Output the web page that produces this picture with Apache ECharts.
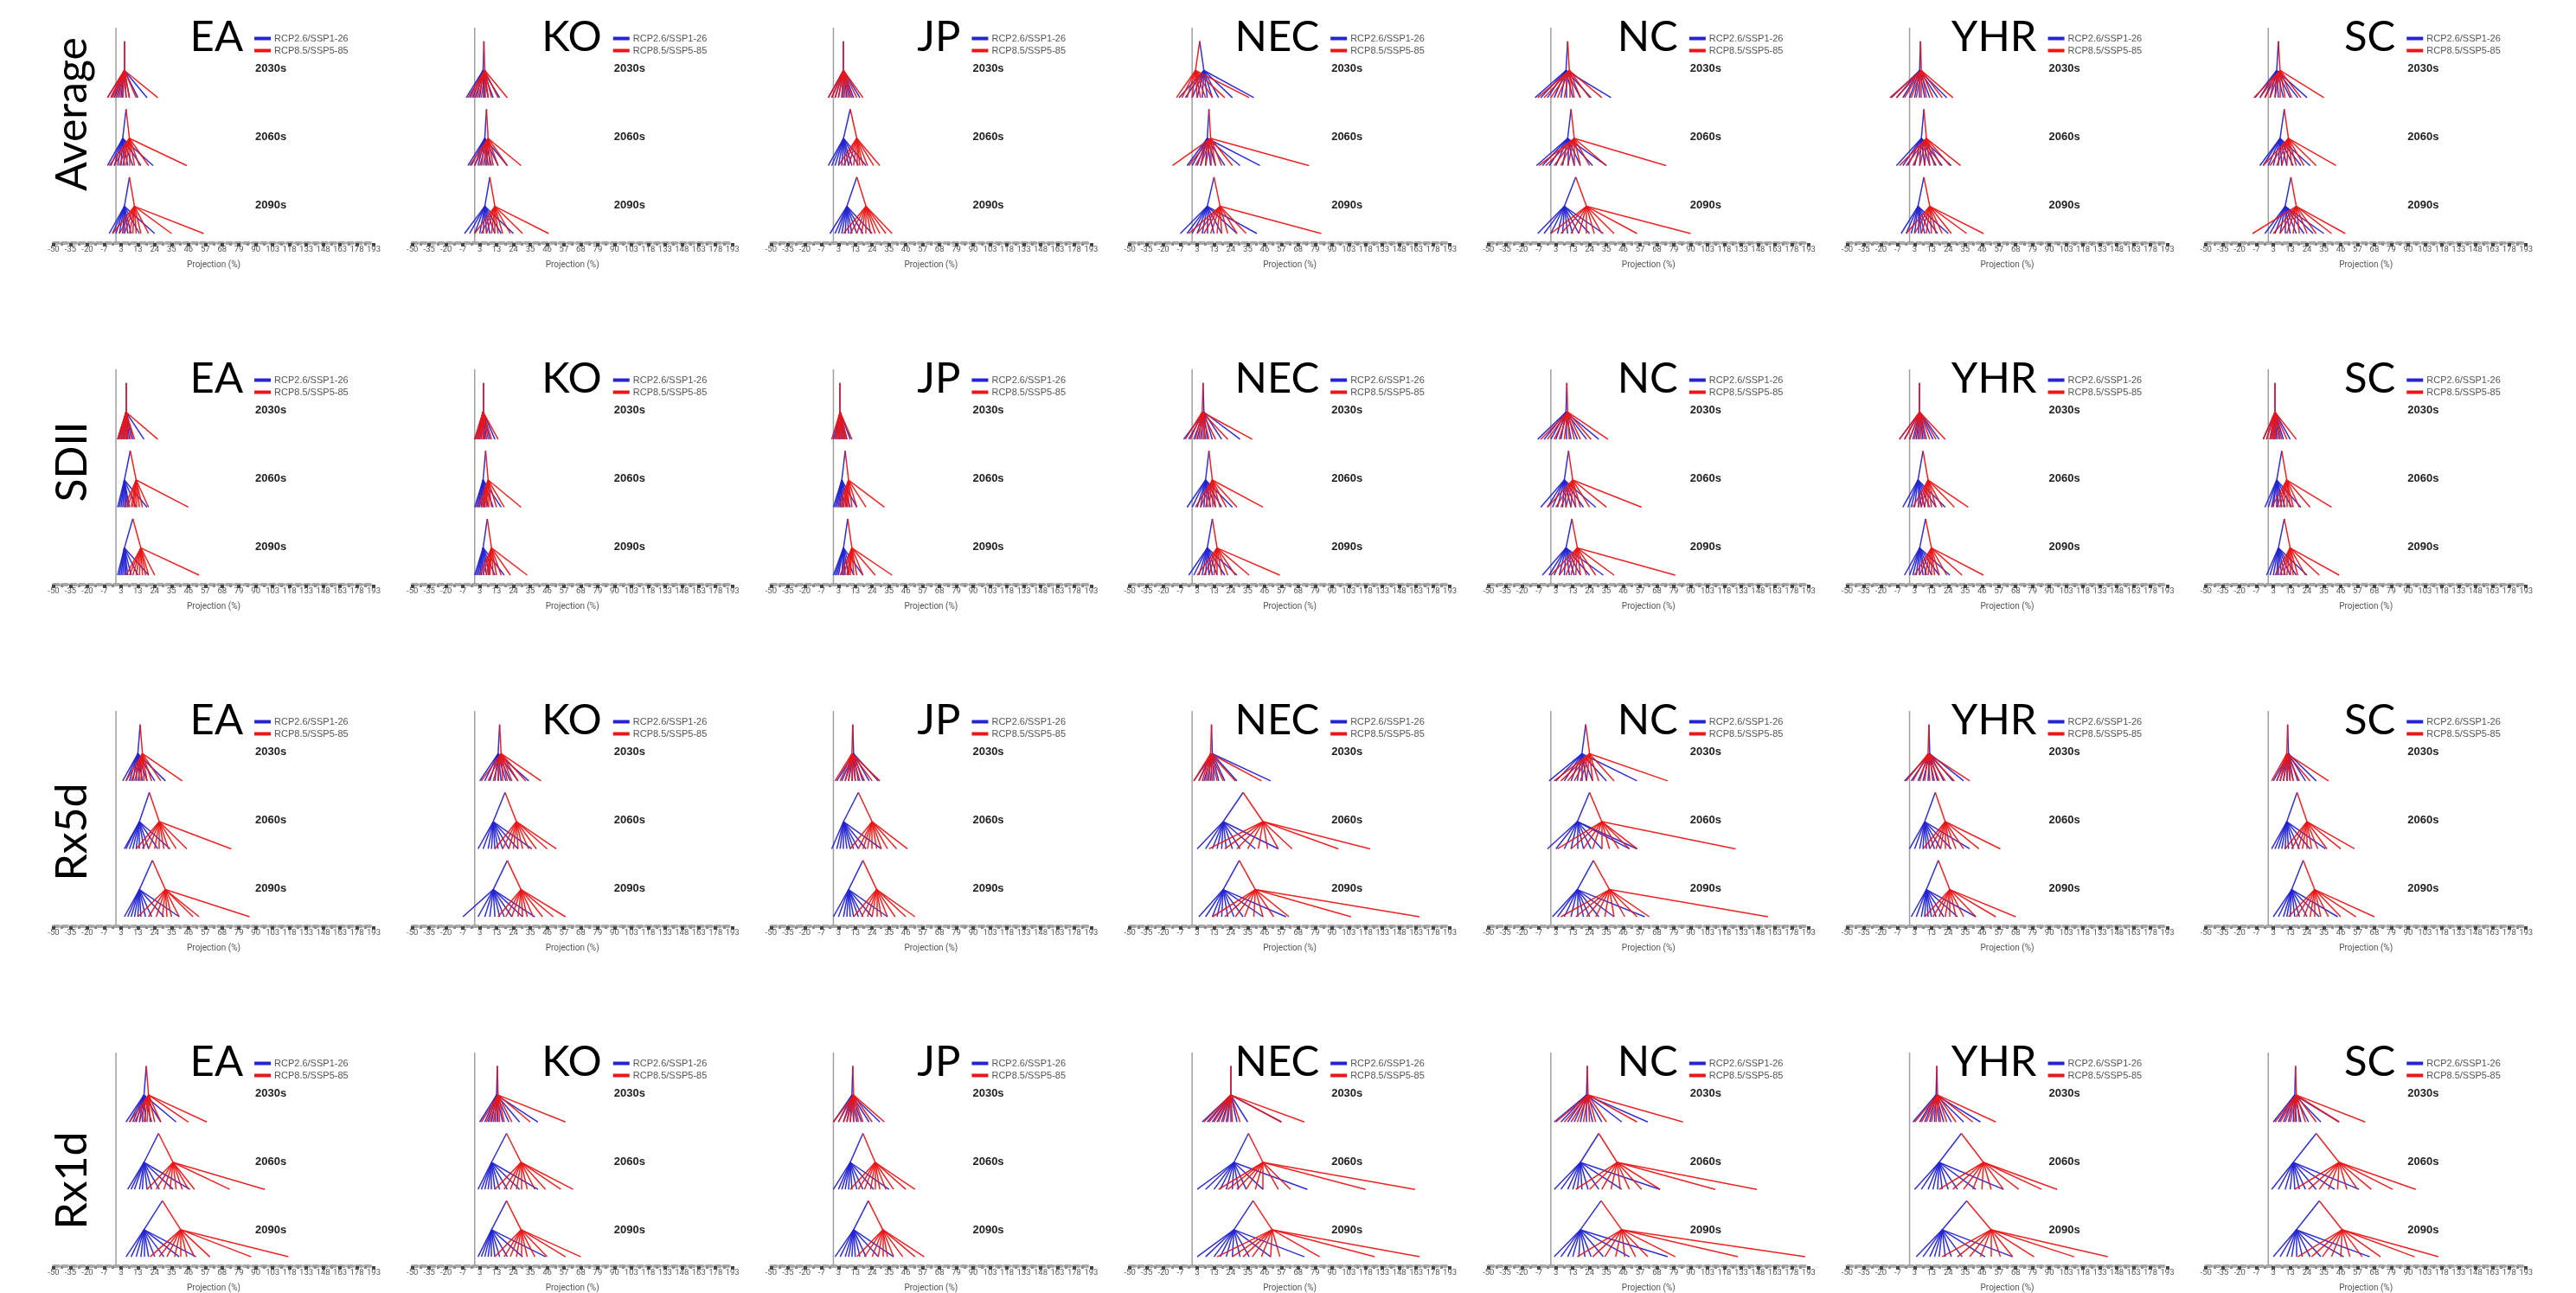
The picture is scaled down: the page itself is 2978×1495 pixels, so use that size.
<!DOCTYPE html>
<html><head><meta charset="utf-8">
<script src="https://cdn.jsdelivr.net/npm/echarts@6/dist/echarts.min.js"></script>
<style>html,body{margin:0;padding:0;background:#fff}#c{width:2978px;height:1495px}</style>
</head><body><div id="c"></div>
<script>
// ---------- labels ----------
const regions = ['EA','KO','JP','NEC','NC','YHR','SC'];
const indices = ['Average','SDII','Rx5d','Rx1d'];
const decades = ['2030s','2060s','2090s'];
const xTickLabels = [-50,-35,-20,-7,3,13,24,35,46,57,68,79,90,103,118,133,148,163,178,193];
const scenarioNames = ['RCP2.6/SSP1-26','RCP8.5/SSP5-85'];
// each decade: [blue cluster mean, red cluster mean, blue model values, red model values] (Projection %)
// ---------- Average ----------
const avgEA = [
 [5,5,[-5,-3,-1,1,3,4,6,8,13,19],[-5,-3,-2,0,2,4,6,8,12,26]],
 [4,8,[-5,-3,-1,1,3,5,7,10,15,23],[-4,-1,2,4,6,8,11,14,20,45]],
 [5,11,[-4,-2,0,2,4,5,7,9,14,24],[-2,2,5,8,10,12,15,20,35,56]]];
const avgKO = [
 [5,6,[-5,-3,-1,1,3,5,6,8,11,15],[-4,-2,0,2,4,6,8,10,14,20]],
 [6,8,[-4,-2,0,2,4,6,8,10,14,20],[-3,0,3,5,7,9,11,14,20,29]],
 [6,12,[-6,-3,0,3,5,7,9,12,16,24],[0,4,7,10,12,14,17,22,30,47]]];
const avgJP = [
 [6,6,[-3,-1,1,3,5,6,8,10,12,16],[-3,-1,1,3,5,7,9,11,14,18]],
 [6,14,[-3,-1,1,3,5,7,9,11,15,20],[3,6,9,12,14,16,18,21,25,29]],
 [8,20,[-2,1,3,5,7,9,11,14,18,24],[6,10,14,17,20,23,26,29,33,37]]];
const avgNEC = [
 [7,2,[-8,-4,0,3,6,9,12,16,25,39],[-10,-6,-3,0,3,5,8,12,20,36]],
 [9,11,[-3,0,3,5,8,11,14,20,30,43],[-13,-2,2,5,8,11,14,18,25,75]],
 [9,17,[-7,-3,0,3,6,9,13,18,28,41],[-2,3,7,11,15,18,22,28,34,83]]];
const avgNC = [
 [9,11,[-10,-6,-2,2,6,9,13,18,25,38],[-8,-4,0,4,8,11,14,18,24,32]],
 [10,14,[-9,-5,-1,3,7,10,14,18,26,35],[-7,-3,2,6,10,14,18,24,35,74]],
 [8,22,[-8,-4,0,4,7,10,13,17,24,33],[0,6,12,17,22,27,32,40,55,90]]];
const avgYHR = [
 [6,7,[-12,-8,-4,0,3,6,9,12,17,23],[-13,-8,-3,1,4,7,10,14,20,27]],
 [7,10,[-8,-4,-1,3,6,9,12,16,20,26],[-6,-2,2,6,9,12,15,19,25,32]],
 [5,12,[-5,-2,1,3,5,7,9,12,17,24],[-2,3,7,10,13,16,20,26,36,47]]];
const avgSC = [
 [5,7,[-8,-5,-2,1,4,6,9,13,18,24],[-9,-5,-2,1,4,7,10,14,20,35]],
 [7,12,[-5,-3,0,3,6,8,11,15,20,26],[-3,1,5,8,11,14,17,22,30,43]],
 [10,17,[-2,1,4,7,10,13,17,22,28,35],[-10,3,7,11,15,19,24,30,40,49]]];
// ---------- SDII ----------
const sdiiEA = [
 [6,6,[1,2,3,4,5,6,7,8,10,17],[1,2,3,4,5,6,7,9,11,26]],
 [5,12,[1,2,3,4,5,6,7,8,12,19],[5,7,9,10,11,12,14,16,20,46]],
 [5,15,[1,2,3,4,5,6,7,9,13,20],[6,8,10,12,14,16,18,20,24,53]]];
const sdiiKO = [
 [5,5,[0,1,2,3,4,5,6,7,9,12],[0,1,2,3,4,5,6,8,10,14]],
 [5,8,[0,1,2,3,4,5,6,8,11,16],[2,4,5,6,7,8,10,13,18,29]],
 [5,10,[0,1,2,3,4,5,7,9,12,18],[3,5,7,8,9,11,13,16,22,33]]];
const sdiiJP = [
 [4,4,[0,1,2,3,4,5,6,7,8,10],[-1,1,2,3,4,5,6,7,8,11]],
 [5,9,[0,1,2,3,4,5,6,8,10,14],[3,5,6,7,8,9,11,14,20,32]],
 [6,11,[0,1,2,3,5,6,7,9,12,18],[4,6,8,9,10,12,14,18,26,37]]];
const sdiiNEC = [
 [7,6,[-5,-2,1,3,5,7,9,12,18,30],[-4,-1,2,4,6,8,10,14,22,38]],
 [8,12,[-3,0,3,5,7,9,11,14,18,25],[2,5,8,10,12,14,17,21,28,45]],
 [9,15,[-2,1,4,6,8,10,12,15,20,28],[3,7,10,13,15,18,22,27,36,56]]];
const sdiiNC = [
 [9,10,[-8,-4,0,3,6,9,12,16,22,30],[-6,-2,2,5,8,11,14,18,25,36]],
 [8,13,[-6,-2,1,4,7,9,12,15,20,28],[-2,3,6,9,12,15,18,24,35,58]],
 [9,16,[-5,-1,2,5,8,11,14,18,24,33],[0,5,9,12,15,18,22,28,40,80]]];
const sdiiYHR = [
 [6,6,[-6,-3,0,2,4,6,8,10,14,18],[-6,-3,0,3,5,7,9,12,16,22]],
 [5,11,[-4,-1,1,3,5,7,9,12,16,22],[2,5,7,9,11,13,16,20,28,37]],
 [6,13,[-3,0,2,4,6,8,10,13,18,25],[3,6,9,11,13,15,18,23,33,47]]];
const sdiiSC = [
 [4,4,[-3,-1,1,2,3,4,5,7,9,13],[-3,-1,1,2,3,4,6,8,11,17]],
 [5,11,[-2,0,2,3,5,6,8,10,14,20],[2,5,7,9,11,13,15,19,26,40]],
 [6,13,[-1,1,3,5,6,8,10,13,17,24],[4,7,9,11,13,15,18,23,32,45]]];
// ---------- Rx5d ----------
const rx5EA = [
 [13,16,[4,6,8,10,12,14,16,19,24,31],[6,9,11,13,15,17,19,22,28,42]],
 [14,27,[5,6,8,10,12,14,17,20,26,34],[12,16,20,24,27,30,33,38,45,74]],
 [14,31,[5,7,9,11,13,15,18,22,30,40],[13,20,25,29,32,35,40,49,53,86]]];
const rx5KO = [
 [14,16,[3,6,9,12,14,16,19,22,27,34],[4,8,11,14,17,20,23,27,32,42]],
 [11,26,[2,5,8,10,12,14,17,21,27,36],[12,17,21,24,27,30,34,39,46,52]],
 [11,29,[-7,2,6,9,12,15,18,23,30,38],[14,19,23,27,30,33,37,43,50,58]]];
const rx5JP = [
 [12,11,[2,5,7,9,11,13,15,18,22,28],[1,4,7,9,11,13,16,19,24,29]],
 [6,24,[-1,2,4,6,8,10,12,15,20,30],[10,15,18,21,24,27,30,34,40,47]],
 [9,27,[0,3,6,8,10,12,15,18,24,34],[12,17,21,24,27,30,34,39,46,52]]];
const rx5NEC = [
 [12,11,[1,4,7,9,11,13,16,20,28,50],[1,4,6,8,10,12,15,19,27,44]],
 [19,45,[3,8,12,15,18,21,25,30,40,55],[10,20,28,35,42,48,55,64,95,122]],
 [19,40,[4,8,12,15,18,22,26,32,45,60],[12,20,27,33,39,45,52,62,105,166]]];
const rx5NC = [
 [19,24,[-1,3,8,12,16,19,22,26,35,55],[2,6,10,14,18,22,26,30,40,75]],
 [16,32,[-2,3,8,12,16,20,25,32,50,55],[4,12,20,26,32,37,43,50,55,128]],
 [16,37,[1,4,8,12,16,20,24,30,40,60],[6,15,22,28,34,40,47,55,63,157]]];
const rx5YHR = [
 [12,11,[-3,1,5,8,11,14,17,21,27,34],[-2,2,6,9,12,15,18,22,28,38]],
 [9,22,[0,3,6,8,10,12,15,19,26,38],[8,12,16,19,22,25,29,34,44,58]],
 [10,25,[1,4,7,9,11,13,16,21,30,42],[9,14,18,22,25,29,34,42,55,68]]];
const rx5SC = [
 [12,11,[3,5,7,9,11,13,15,18,23,30],[2,5,7,9,11,13,15,19,26,38]],
 [11,24,[2,4,6,8,10,12,15,19,26,36],[10,14,18,21,24,27,31,37,46,55]],
 [14,29,[3,6,9,11,13,16,19,24,32,44],[12,17,22,26,29,33,38,46,56,68]]];
// ---------- Rx1d ----------
const rx1EA = [
 [17,20,[6,8,10,12,14,16,18,22,28,38],[8,11,14,17,19,21,24,28,46,58]],
 [17,36,[7,9,11,14,16,19,22,27,36,47],[19,25,30,34,38,42,46,50,73,97]],
 [17,41,[6,9,12,15,17,20,24,30,40,51],[21,27,32,37,41,45,50,60,87,117]]];
const rx1KO = [
 [13,14,[3,6,8,10,12,14,17,21,28,40],[4,7,9,11,13,15,18,23,35,58]],
 [10,29,[2,4,6,8,10,12,15,20,28,40],[12,18,22,26,29,33,38,45,55,63]],
 [10,29,[2,4,6,8,10,12,15,20,30,45],[12,18,22,26,29,33,38,46,58,68]]];
const rx1JP = [
 [11,12,[0,3,6,8,10,12,14,17,22,29],[0,3,6,8,10,12,15,18,24,32]],
 [10,26,[0,3,5,7,9,11,14,18,25,35],[10,15,19,23,26,29,33,38,46,52]],
 [12,31,[1,4,7,9,11,13,16,20,28,38],[14,19,24,28,31,34,38,44,52,58]]];
const rx1NEC = [
 [24,24,[6,9,12,15,18,21,24,28,35,57],[7,10,13,16,19,22,25,30,57,72]],
 [26,45,[3,8,13,17,21,25,29,34,45,74],[16,22,28,34,40,45,55,63,118,162]],
 [26,51,[3,8,13,17,21,25,30,36,50,72],[15,25,32,38,44,50,56,82,126,166]]];
const rx1NC = [
 [22,23,[2,6,10,14,18,22,26,32,45,62],[3,8,12,16,20,24,28,35,55,85]],
 [18,42,[2,6,10,13,16,19,23,30,45,70],[15,24,32,38,44,50,58,70,110,147]],
 [18,45,[2,6,10,13,17,21,25,33,50,75],[16,26,34,41,47,54,62,80,130,190]]];
const rx1YHR = [
 [16,17,[2,6,9,12,15,18,21,26,34,45],[3,7,10,13,16,19,23,29,40,55]],
 [18,47,[3,7,11,14,17,20,24,30,42,60],[18,27,34,40,46,52,60,70,85,96]],
 [20,52,[4,8,12,15,18,22,26,33,48,66],[20,30,38,45,52,58,66,80,110,140]]];
const rx1SC = [
 [16,17,[3,6,9,12,15,17,20,25,33,45],[4,7,10,13,16,19,23,30,45,62]],
 [15,45,[2,6,10,13,16,19,23,30,42,58],[16,25,32,38,44,50,57,66,80,96]],
 [17,47,[3,7,11,14,17,21,26,33,48,65],[18,27,34,40,46,52,60,72,95,115]]];

const panelRows = [
 [avgEA, avgKO, avgJP, avgNEC, avgNC, avgYHR, avgSC],
 [sdiiEA, sdiiKO, sdiiJP, sdiiNEC, sdiiNC, sdiiYHR, sdiiSC],
 [rx5EA, rx5KO, rx5JP, rx5NEC, rx5NC, rx5YHR, rx5SC],
 [rx1EA, rx1KO, rx1JP, rx1NEC, rx1NC, rx1YHR, rx1SC]];

// ---------- axis scale: labelled ticks are evenly spaced ----------
function toAxis(v) {
  const L = xTickLabels;
  if (v <= L[0]) return (v - L[0]) / (L[1] - L[0]);
  for (let i = 0; i < L.length - 1; i++) {
    if (v <= L[i + 1]) return i + (v - L[i]) / (L[i + 1] - L[i]);
  }
  const n = L.length - 1;
  return n + (v - L[n]) / (L[n] - L[n - 1]);
}

// ---------- layout ----------
const COLORS = ['#2424d2', '#ec1616'];
const colLeft = c => 62 + 414.7 * c;
const GRID_W = 370;
const rowTop = r => 32 + 395 * r;
const GRID_H = 249;
const Y_MIN = -0.14, Y_MAX = 3.03;
const ROOT_H = 0.83, NODE_H = 0.4;
const PX_PER_Y = GRID_H / (Y_MAX - Y_MIN);
const rowLabelY = [132, 534, 962, 1365];

const grid = [], xAxis = [], yAxis = [], series = [], legend = [], graphic = [];
let k = 0;
panelRows.forEach((row, r) => {
  graphic.push({type: 'text', x: 84, y: rowLabelY[r], rotation: Math.PI / 2,
    style: {text: indices[r], fontSize: 50, fontFamily: 'Lato', fill: '#000', align: 'center', verticalAlign: 'middle'}});
  row.forEach((panel, c) => {
    const left = colLeft(c), top = rowTop(r);
    const zeroPx = left + GRID_W * toAxis(0) / 19;
    grid.push({left: left, top: top, width: GRID_W, height: GRID_H});
    xAxis.push({gridIndex: k, type: 'value', min: 0, max: 19, interval: 1,
      axisLine: {onZero: false, lineStyle: {color: '#a8a8a8', width: 4, type: [6, 4]}},
      axisTick: {show: true, length: 4, inside: false, lineStyle: {color: '#444', width: 4}},
      minorTick: {show: true, splitNumber: 2, length: 3, lineStyle: {color: '#888', width: 3}},
      splitLine: {show: false},
      axisLabel: {fontSize: 9.5, color: '#555', margin: 3, fontFamily: 'Roboto',
        formatter: v => String(xTickLabels[Math.round(v)])},
      name: 'Projection (%)', nameLocation: 'middle', nameGap: 20,
      nameTextStyle: {fontSize: 10, color: '#555', fontFamily: 'Roboto'}});
    yAxis.push({gridIndex: k, type: 'value', min: Y_MIN, max: Y_MAX, show: false});
    // zero reference line
    series.push({type: 'line', name: 'zero', xAxisIndex: k, yAxisIndex: k, silent: true,
      symbol: 'none', lineStyle: {color: '#a0a0a0', width: 1.5}, z: 1,
      data: [[toAxis(0), Y_MIN], [toAxis(0), Y_MAX]]});
    const segs = [[], []];
    panel.forEach((dec, d) => {
      const base = 2 - d;
      const bN = dec[0], rN = dec[1];
      const rootX = toAxis((bN + rN) / 2);
      const nodes = [bN, rN];
      [0, 1].forEach(s => {
        const nx = toAxis(nodes[s]);
        segs[s].push({coords: [[rootX, base + ROOT_H], [nx, base + NODE_H]]});
        dec[2 + s].forEach(v => segs[s].push({coords: [[nx, base + NODE_H], [toAxis(v), base]]}));
      });
      const baseY = top + (Y_MAX - base) * PX_PER_Y;
      graphic.push({type: 'text', x: zeroPx + 161, y: baseY - 33,
        style: {text: decades[d], fontSize: 13, fontWeight: 'bold', fontFamily: 'Liberation Sans', fill: '#222', align: 'left', verticalAlign: 'middle'}});
    });
    [0, 1].forEach(s => {
      series.push({type: 'lines', name: scenarioNames[s], coordinateSystem: 'cartesian2d',
        xAxisIndex: k, yAxisIndex: k, polyline: false, silent: true, z: 3,
        itemStyle: {color: COLORS[s]},
        lineStyle: {color: COLORS[s], width: 1.5, opacity: 0.95},
        data: segs[s]});
    });
    legend.push({left: zeroPx + 155, top: top + 2, orient: 'vertical', icon: 'rect',
      itemWidth: 17, itemHeight: 2, itemGap: 3, selectedMode: false,
      textStyle: {fontSize: 11, color: '#555', fontFamily: 'Liberation Sans'},
      data: scenarioNames});
    graphic.push({type: 'text', x: zeroPx + 147, y: top + 11,
      style: {text: regions[c], fontSize: 49, fontFamily: 'Lato', fill: '#000', align: 'right', verticalAlign: 'middle'}});
    k++;
  });
});

const chart = echarts.init(document.getElementById('c'), null, {renderer: 'canvas'});
chart.setOption({backgroundColor: '#fff', animation: false,
  grid, xAxis, yAxis, series, legend, graphic});
</script></body></html>
